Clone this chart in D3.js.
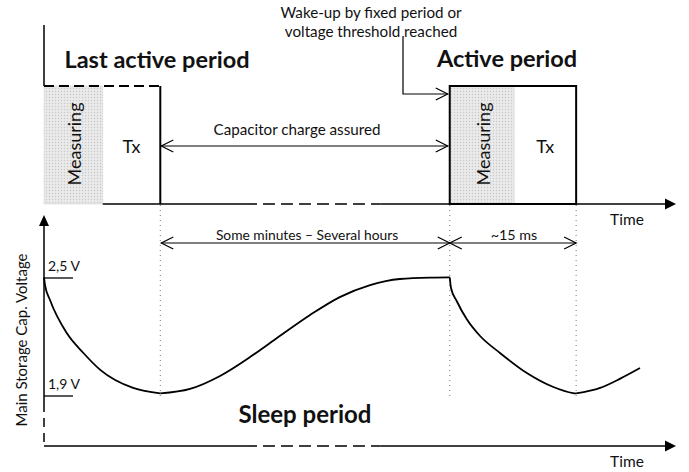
<!DOCTYPE html>
<html>
<head>
<meta charset="utf-8">
<script src="https://cdn.jsdelivr.net/npm/d3@7"></script>
<style>
  body { margin: 0; background: #fff; }
  text { font-family: Lato, "Open Sans", sans-serif; fill: #111; }
</style>
</head>
<body>
<div id="chart"></div>
<script>
// timeline in arbitrary units (0 = axis origin, 100 = arrow tip)
const phaseNames = ['lastMeasureEnd', 'lastTxEnd', 'gapStart', 'gapEnd', 'wakeUp', 'measureEnd', 'txEnd'];
const phaseTimes = [9.3, 18.4, 31.8, 53.2, 64.2, 74.4, 84.2];

// capacitor voltage, split into discharge / recharge pieces
const dischargeT1 = [0, 0.16, 0.95, 3.6, 6.2, 8.9, 14.1, 18.4];
const dischargeV1 = [2.503, 2.464, 2.388, 2.22, 2.12, 2.033, 1.941, 1.913];
const rechargeT1 = [18.4, 23.1, 27.85, 32.6, 37.3, 42.1, 46.8, 51.6, 56.3, 61.1, 64.2];
const rechargeV1 = [1.913, 1.936, 2.002, 2.098, 2.205, 2.312, 2.403, 2.464, 2.495, 2.502, 2.503];
const dischargeT2 = [64.2, 64.4, 65.3, 66.9, 69.0, 72.15, 76.4, 80.5, 83.7, 84.2];
const dischargeV2 = [2.503, 2.449, 2.383, 2.29, 2.205, 2.119, 2.017, 1.947, 1.915, 1.913];
const rechargeT2 = [84.2, 88.0, 91.1, 94.3];
const rechargeV2 = [1.913, 1.941, 1.987, 2.042];

const voltageTicks = [2.5, 1.9];
const voltageLabels = ['2,5 V', '1,9 V'];

const W = 689, H = 472;
const x = d3.scaleLinear().domain([0, 100]).range([44, 676]);
const v = d3.scaleLinear().domain([1.9, 2.5]).range([396, 278]);
const t = d => phaseTimes[phaseNames.indexOf(d)];

const sigTop = 86, sigBase = 204;   // upper panel
const axTop = 215, axBase = 446;    // lower panel

const svg = d3.select('#chart').append('svg')
  .attr('width', W).attr('height', H);

// dotted fill for the measuring blocks
const pat = svg.append('defs').append('pattern')
  .attr('id', 'dots').attr('patternUnits', 'userSpaceOnUse')
  .attr('width', 3).attr('height', 3);
pat.append('rect').attr('width', 3).attr('height', 3).attr('fill', '#eaeaea');
pat.append('circle').attr('cx', 1.5).attr('cy', 1.5).attr('r', 0.7).attr('fill', '#c8c8c8');

function seg(x1, y1, x2, y2, w, dash) {
  const l = svg.append('line')
    .attr('x1', x1).attr('y1', y1).attr('x2', x2).attr('y2', y2)
    .attr('stroke', '#000').attr('stroke-width', w || 1.3);
  if (dash) l.attr('stroke-dasharray', dash);
  return l;
}

// open chevron head; dir = +1 points right, -1 points left
function openHead(px, py, dir) {
  svg.append('path')
    .attr('d', `M${px - dir * 12},${py - 6}L${px},${py}L${px - dir * 12},${py + 6}`)
    .attr('fill', 'none').attr('stroke', '#000').attr('stroke-width', 1.2);
}

function filledHead(px, py, dir) {
  // dir: 'right' or 'up'
  const p = dir === 'right'
    ? `M${px},${py}L${px - 11},${py - 5.5}L${px - 11},${py + 5.5}Z`
    : `M${px},${py}L${px - 5},${py + 11}L${px + 5},${py + 11}Z`;
  svg.append('path').attr('d', p).attr('fill', '#000');
}

function label(tx, px, py, size, weight, anchor) {
  return svg.append('text').attr('x', px).attr('y', py)
    .attr('font-size', size).attr('font-weight', weight || 'normal')
    .attr('text-anchor', anchor || 'middle').text(tx);
}

// ---------- upper panel: activity signal ----------
// measuring blocks
[[0, t('lastMeasureEnd')], [t('wakeUp'), t('measureEnd')]].forEach(([a, b]) => {
  svg.append('rect')
    .attr('x', x(a)).attr('y', sigTop)
    .attr('width', x(b) - x(a)).attr('height', sigBase - sigTop)
    .attr('fill', 'url(#dots)').attr('stroke', '#cfcfcf')
    .attr('stroke-width', 1).attr('stroke-dasharray', '1,1');
});

// last active period (only partly visible)
seg(x(0), 25, x(0), sigTop, 1.5);
seg(x(0), sigTop, x(t('lastTxEnd')), sigTop, 2, '10,5');
seg(x(t('lastTxEnd')), sigTop, x(t('lastTxEnd')), sigBase, 2);

// baseline of the upper panel
seg(x(t('lastMeasureEnd')), sigBase, x(t('gapStart')), sigBase, 1.5);
seg(x(t('gapStart')), sigBase, x(t('gapEnd')), sigBase, 1.5, '12,6');
seg(x(t('gapEnd')), sigBase, x(100) - 6, sigBase, 1.5);
filledHead(x(100), sigBase, 'right');

// active period box
svg.append('rect')
  .attr('x', x(t('wakeUp'))).attr('y', sigTop)
  .attr('width', x(t('txEnd')) - x(t('wakeUp'))).attr('height', sigBase - sigTop)
  .attr('fill', 'none').attr('stroke', '#000').attr('stroke-width', 2);

// block labels
[[0, t('lastMeasureEnd')], [t('wakeUp'), t('measureEnd')]].forEach(([a, b]) => {
  const cx = (x(a) + x(b)) / 2;
  svg.append('text').attr('transform', `translate(${cx + 8},144) rotate(-90)`)
    .attr('text-anchor', 'middle').attr('font-size', 18).text('Measuring');
});
label('Tx', (x(t('lastMeasureEnd')) + x(t('lastTxEnd'))) / 2, 153, 18);
label('Tx', (x(t('measureEnd')) + x(t('txEnd'))) / 2, 153, 18);

label('Last active period', 157, 68, 23.5, 'bold');
label('Active period', 507, 67, 23.5, 'bold');
label('Time', 627, 225, 15.5);

// capacitor charge arrow
seg(x(t('lastTxEnd')) + 1, 146, x(t('wakeUp')) - 2, 146, 1.2);
openHead(x(t('lastTxEnd')) + 1, 146, -1);
openHead(x(t('wakeUp')) - 2, 146, 1);
label('Capacitor charge assured', 297, 135, 15.2);

// wake-up callout
svg.append('path')
  .attr('d', `M403,36V94H${x(t('wakeUp')) - 2}`)
  .attr('fill', 'none').attr('stroke', '#000').attr('stroke-width', 1.2);
openHead(x(t('wakeUp')) - 2, 94, 1);
label('Wake-up by fixed period or', 371, 18, 15.2);
label('voltage threshold reached', 371, 37, 15.2);

// ---------- lower panel: capacitor voltage ----------
// event guides
['lastTxEnd', 'wakeUp', 'txEnd'].forEach(n => {
  seg(x(t(n)), sigBase + 1, x(t(n)), 396, 1, '1,4').attr('stroke', '#777');
});

// axes
seg(x(0), axTop + 8, x(0), 403, 1.5);
seg(x(0), 403, x(0), axBase, 1.5, '9,6');
filledHead(x(0), axTop, 'up');
seg(x(0), axBase, x(t('gapStart')), axBase, 1.5);
seg(x(t('gapStart')), axBase, x(t('gapEnd')), axBase, 1.5, '12,6');
seg(x(t('gapEnd')), axBase, x(100) - 6, axBase, 1.5);
filledHead(x(100), axBase, 'right');
label('Time', 627, 467, 15.5);

// voltage ticks
voltageTicks.forEach((d, i) => {
  seg(x(0), v(d), x(0) + 29, v(d), 1.3);
  label(voltageLabels[i], x(0) + 4, v(d) - 7, 14, 'normal', 'start');
});

svg.append('text').attr('transform', 'translate(27,340) rotate(-90)')
  .attr('text-anchor', 'middle').attr('font-size', 15).text('Main Storage Cap. Voltage');

// duration arrows
const durY = 243;
seg(x(t('lastTxEnd')) + 1, durY, x(t('txEnd')), durY, 1.2);
openHead(x(t('lastTxEnd')) + 1, durY, -1);
openHead(x(t('wakeUp')), durY, 1);
openHead(x(t('wakeUp')), durY, -1);
openHead(x(t('txEnd')), durY, 1);
label('Some minutes \u2013 Several hours', 307, 240, 13.8);
label('~15 ms', 514, 240, 14.3);

// voltage curve
const line = d3.line().x(d => x(d[0])).y(d => v(d[1])).curve(d3.curveMonotoneX);
[[dischargeT1, dischargeV1], [rechargeT1, rechargeV1],
 [dischargeT2, dischargeV2], [rechargeT2, rechargeV2]].forEach(([ts, vs]) => {
  svg.append('path')
    .attr('d', line(ts.map((d, i) => [d, vs[i]])))
    .attr('fill', 'none').attr('stroke', '#000').attr('stroke-width', 1.8);
});

label('Sleep period', 305, 423, 24, 'bold');
</script>
</body>
</html>
